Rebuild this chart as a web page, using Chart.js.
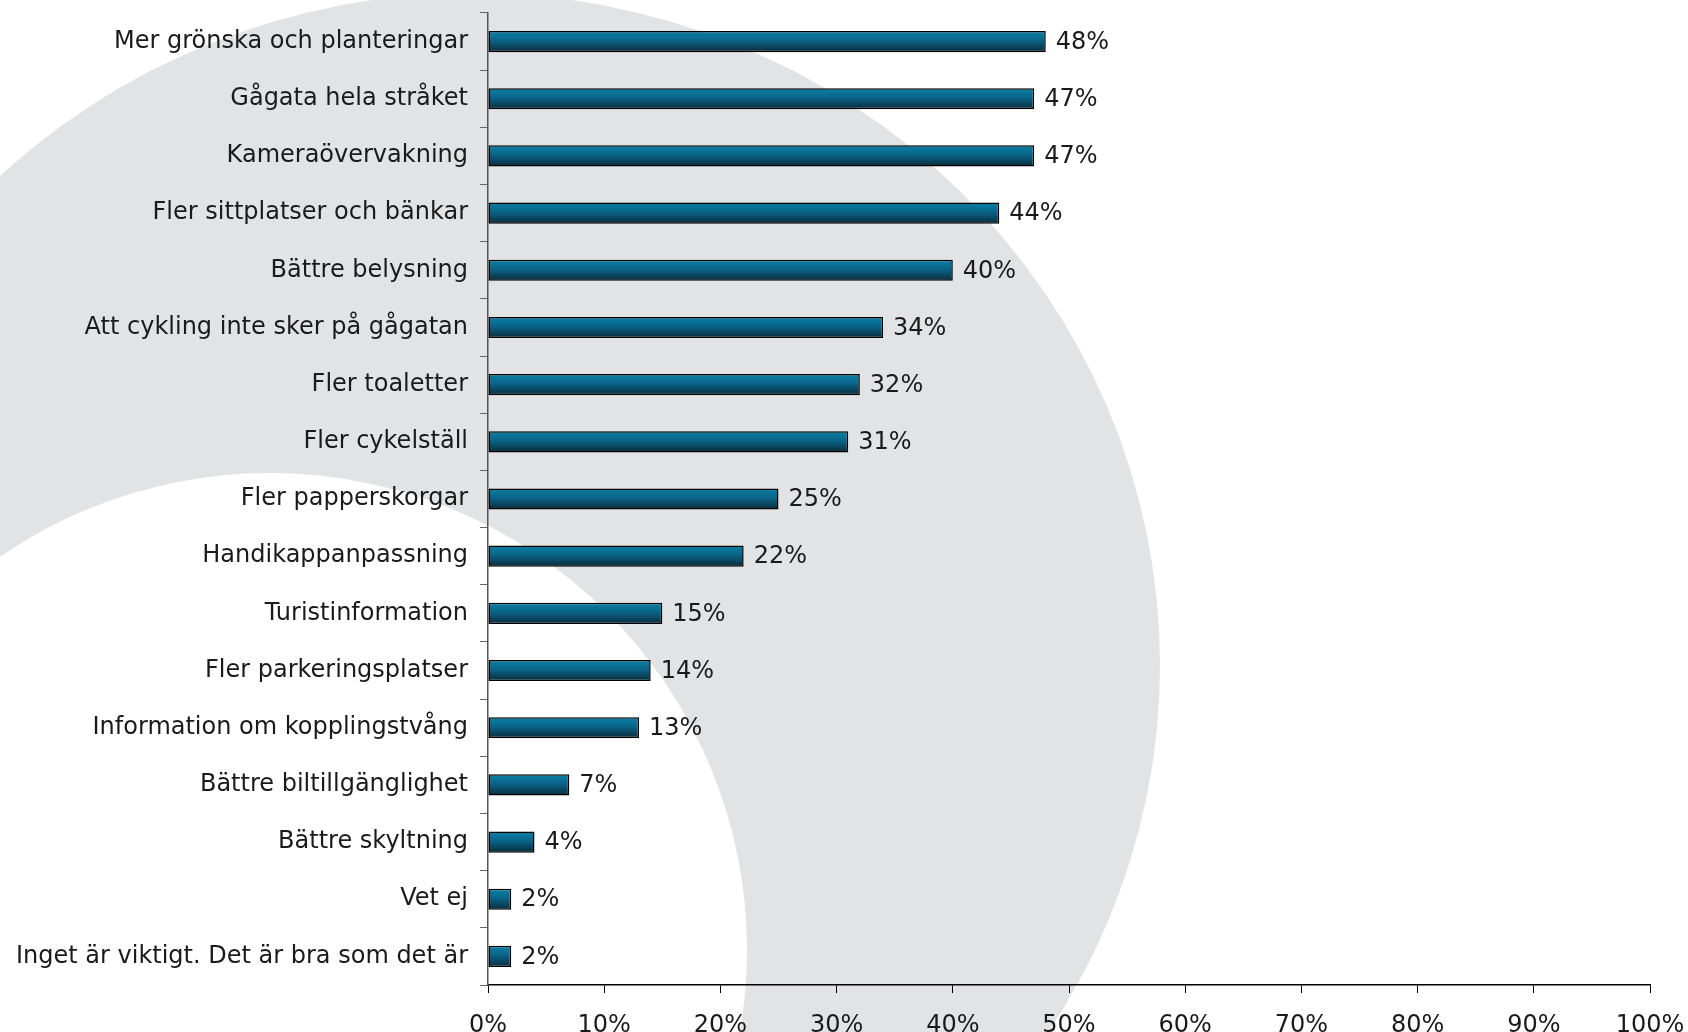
<!DOCTYPE html>
<html>
<head>
<meta charset="utf-8">
<script src="https://cdn.jsdelivr.net/npm/chart.js@4.4.1/dist/chart.umd.min.js"></script>
<style>
  html, body { margin: 0; padding: 0; background: #fff; }
  #wrap { width: 1688px; height: 1032px; }
</style>
</head>
<body>
<div id="wrap"><canvas id="chart" width="1688" height="1032"></canvas></div>
<script>
// survey answers, share of respondents (%)
const categories = [
  'Mer grönska och planteringar',
  'Gågata hela stråket',
  'Kameraövervakning',
  'Fler sittplatser och bänkar',
  'Bättre belysning',
  'Att cykling inte sker på gågatan',
  'Fler toaletter',
  'Fler cykelställ',
  'Fler papperskorgar',
  'Handikappanpassning',
  'Turistinformation',
  'Fler parkeringsplatser',
  'Information om kopplingstvång',
  'Bättre biltillgänglighet',
  'Bättre skyltning',
  'Vet ej',
  'Inget är viktigt. Det är bra som det är'
];
const shares = [48, 47, 47, 44, 40, 34, 32, 31, 25, 22, 15, 14, 13, 7, 4, 2, 2];
const xTickLabels = ['0%', '10%', '20%', '30%', '40%', '50%', '60%', '70%', '80%', '90%', '100%'];

const FONT = { family: '"DejaVu Sans", Verdana, sans-serif', size: 24 };
const TEXT = '#1a1a1a';
const BAR_PCT = 0.37;

// grey swoosh behind the plot: big ellipse minus a white circle
const backdrop = {
  id: 'backdrop',
  beforeDraw(chart) {
    const ctx = chart.ctx;
    ctx.save();
    ctx.fillStyle = '#fff';
    ctx.fillRect(0, 0, chart.width, chart.height);
    ctx.fillStyle = '#e2e3e5';
    ctx.beginPath();
    ctx.ellipse(472, 665, 688, 672, 0, 0, Math.PI * 2);
    ctx.fill();
    ctx.fillStyle = '#fff';
    ctx.beginPath();
    ctx.arc(270, 950, 477, 0, Math.PI * 2);
    ctx.fill();
    ctx.restore();
  }
};

const valueLabels = {
  id: 'valueLabels',
  afterDatasetsDraw(chart) {
    const ctx = chart.ctx;
    const meta = chart.getDatasetMeta(0);
    ctx.save();
    ctx.font = FONT.size + 'px ' + FONT.family;
    ctx.fillStyle = TEXT;
    ctx.textBaseline = 'middle';
    ctx.textAlign = 'left';
    meta.data.forEach((bar, i) => {
      ctx.fillText(shares[i] + '%', bar.x + 10, bar.y + 1);
    });
    ctx.restore();
  }
};

function barFill(context) {
  const chart = context.chart;
  const y = chart.scales.y;
  if (context.type !== 'data' || !y) return '#0a6e90';
  const mid = y.getPixelForValue(context.dataIndex);
  const half = (y.getPixelForValue(1) - y.getPixelForValue(0)) * BAR_PCT / 2;
  if (!Number.isFinite(mid) || !Number.isFinite(half)) return '#0a6e90';
  const g = chart.ctx.createLinearGradient(0, mid - half, 0, mid + half);
  g.addColorStop(0, '#0a80a6');
  g.addColorStop(0.45, '#0a6488');
  g.addColorStop(1, '#0a2a39');
  return g;
}

new Chart(document.getElementById('chart'), {
  type: 'bar',
  data: {
    labels: categories,
    datasets: [{
      data: shares,
      backgroundColor: barFill,
      borderColor: '#000',
      borderWidth: 1.5,
      borderSkipped: false,
      barPercentage: BAR_PCT,
      categoryPercentage: 1
    }]
  },
  options: {
    indexAxis: 'y',
    responsive: false,
    animation: false,
    devicePixelRatio: 1,
    layout: { padding: { top: 13, right: 38, left: 0, bottom: 0 } },
    plugins: { legend: { display: false }, tooltip: { enabled: false } },
    scales: {
      x: {
        type: 'linear',
        min: 0,
        max: 100,
        ticks: {
          stepSize: 10,
          font: FONT,
          color: TEXT,
          padding: 18,
          callback: (v) => xTickLabels[Math.round(v / 10)]
        },
        grid: { drawOnChartArea: false, drawTicks: true, tickLength: 8, color: '#000', lineWidth: 1 },
        border: { color: '#000', width: 1.5 },
        afterFit: (scale) => {
          scale.height = 47;
          scale.paddingLeft = 0;
          scale.paddingRight = 0;
        }
      },
      y: {
        type: 'category',
        ticks: { font: FONT, color: TEXT, padding: 12, autoSkip: false },
        grid: { drawOnChartArea: false, drawTicks: true, tickLength: 8, color: '#666', offset: true },
        border: { color: '#555', width: 1.5 },
        afterFit: (scale) => {
          scale.width = 488;
          scale.paddingTop = 0;
          scale.paddingBottom = 0;
        }
      }
    }
  },
  plugins: [backdrop, valueLabels]
});
</script>
</body>
</html>
